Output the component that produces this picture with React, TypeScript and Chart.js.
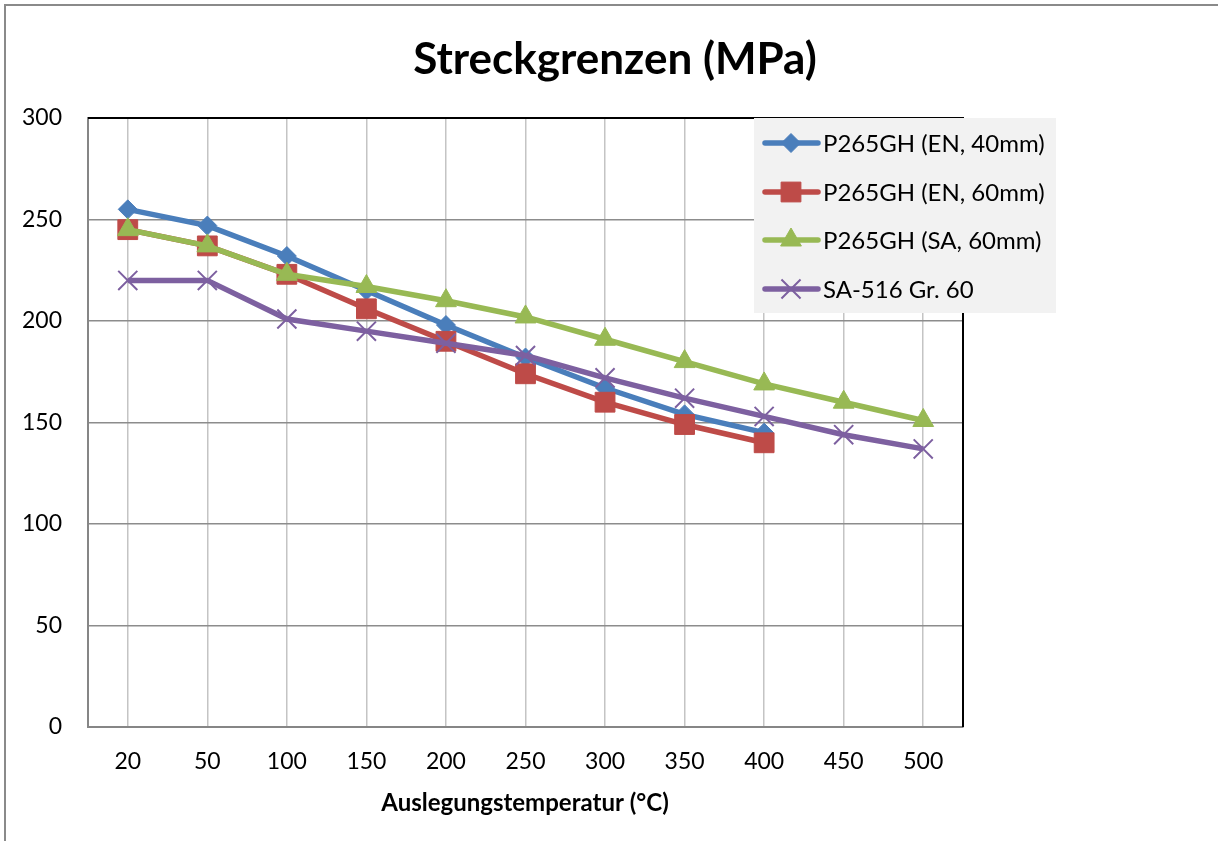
import React, { useEffect, useRef } from "react";
import { Chart, registerables } from "chart.js";

Chart.register(...registerables);

const categories = ["20", "50", "100", "150", "200", "250", "300", "350", "400", "450", "500"];
const en40 = [255, 247, 232, 215, 198, 182, 167, 154, 145, null, null];
const en60 = [245, 237, 223, 206, 190, 174, 160, 149, 140, null, null];
const sa60 = [245, 237, 223, 217, 210, 202, 191, 180, 169, 160, 151];
const sa516 = [220, 220, 201, 195, 189, 183, 172, 162, 153, 144, 137];
const seriesNames = ["P265GH (EN, 40mm)", "P265GH (EN, 60mm)", "P265GH (SA, 60mm)", "SA-516 Gr. 60"];
const seriesColors = ["#4A7EBB", "#BE4B48", "#98B954", "#7D60A0"];
const pointStyles = ["rectRot", "rect", "triangle", "crossRot"];
const pointRadii = [9.5, 14, 12, 13.5];
const titleText = "Streckgrenzen (MPa)";
const xTitleText = "Auslegungstemperatur (°C)";

const FONT = "Lato, 'Open Sans', sans-serif";

export default function App() {
  const ref = useRef<HTMLCanvasElement | null>(null);

  useEffect(() => {
    const canvas = ref.current;
    if (!canvas) return;
    const values = [en40, en60, sa60, sa516];

    function drawPointLocal(ctx: any, style: string, r: number, x: number, y: number) {
      ctx.beginPath();
      if (style === "rectRot") {
        ctx.moveTo(x, y - r); ctx.lineTo(x + r, y); ctx.lineTo(x, y + r); ctx.lineTo(x - r, y); ctx.closePath();
        ctx.fill(); ctx.stroke();
      } else if (style === "rect") {
        const s = r * Math.SQRT1_2;
        ctx.rect(x - s, y - s, 2 * s, 2 * s); ctx.fill(); ctx.stroke();
      } else if (style === "triangle") {
        ctx.moveTo(x, y - r);
        ctx.lineTo(x + Math.sin(2 * Math.PI / 3) * r, y + r / 2);
        ctx.lineTo(x - Math.sin(2 * Math.PI / 3) * r, y + r / 2);
        ctx.closePath(); ctx.fill(); ctx.stroke();
      } else {
        const d = r * Math.SQRT1_2;
        ctx.moveTo(x - d, y - d); ctx.lineTo(x + d, y + d);
        ctx.moveTo(x + d, y - d); ctx.lineTo(x - d, y + d);
        ctx.stroke();
      }
    }

    const decor = {
      id: "decor",
      afterDraw(chart: any) {
        const ctx = chart.ctx;
        const a = chart.chartArea;
        ctx.save();
        ctx.strokeStyle = "#000";
        ctx.lineWidth = 2;
        ctx.beginPath();
        ctx.moveTo(a.left, a.top);
        ctx.lineTo(a.right, a.top);
        ctx.lineTo(a.right, a.bottom);
        ctx.stroke();
        ctx.strokeStyle = "#8a8a8a";
        ctx.lineWidth = 2;
        ctx.beginPath();
        ctx.moveTo(5, 841);
        ctx.lineTo(5, 5);
        ctx.lineTo(1218, 5);
        ctx.stroke();
        ctx.fillStyle = "#000";
        ctx.textAlign = "center";
        ctx.textBaseline = "middle";
        ctx.font = "bold 44px " + FONT;
        ctx.fillText(titleText, 615, 60);
        ctx.font = "bold 24px " + FONT;
        ctx.fillText(xTitleText, 525, 803);
        const lx = 754, ly = 118, lw = 302, lh = 195;
        ctx.fillStyle = "#f2f2f2";
        ctx.fillRect(lx, ly, lw, lh);
        const rows = [143, 192, 240, 289];
        seriesNames.forEach((name, i) => {
          const y = rows[i];
          ctx.strokeStyle = seriesColors[i];
          ctx.lineWidth = 5.5;
          ctx.lineCap = "round";
          ctx.beginPath();
          ctx.moveTo(765, y);
          ctx.lineTo(818, y);
          ctx.stroke();
          ctx.lineCap = "butt";
          ctx.fillStyle = seriesColors[i];
          ctx.lineWidth = i === 3 ? 2 : 1;
          drawPointLocal(ctx, pointStyles[i], pointRadii[i], 791, y);
          ctx.fillStyle = "#000";
          ctx.textAlign = "left";
          ctx.textBaseline = "middle";
          ctx.font = "24px " + FONT;
          ctx.fillText(name, 823, y + 1);
        });
        ctx.restore();
      },
    };

    const chart = new Chart(canvas, {
      type: "line",
      data: {
        labels: categories,
        datasets: values.map((v, i) => ({
          label: seriesNames[i],
          data: v,
          order: 3 - i,
          borderColor: seriesColors[i],
          backgroundColor: seriesColors[i],
          borderWidth: 5.5,
          pointStyle: pointStyles[i] as any,
          pointRadius: pointRadii[i],
          pointBorderWidth: i === 3 ? 2 : 1,
          pointBackgroundColor: seriesColors[i],
          pointBorderColor: seriesColors[i],
          tension: 0,
          spanGaps: false,
        })),
      },
      options: {
        responsive: false,
        animation: false,
        layout: { padding: { left: 0, top: 118, right: 255, bottom: 0 } },
        plugins: {
          legend: { display: false },
          title: { display: false },
          tooltip: { enabled: false },
        },
        scales: {
          x: {
            offset: true,
            grid: { offset: false, color: "#c4c4c4", lineWidth: 1.5, drawTicks: false },
            border: { color: "#868686", width: 2 },
            ticks: { color: "#000", font: { family: FONT, size: 23 }, padding: 21, maxRotation: 0 },
            afterFit: (s: any) => { s.height = 114; },
          },
          y: {
            min: 0,
            max: 300,
            ticks: { stepSize: 50, color: "#000", font: { family: FONT, size: 23 }, padding: 26 },
            grid: { color: "#8c8c8c", lineWidth: 1.5, drawTicks: false },
            border: { color: "#868686", width: 2 },
            afterFit: (s: any) => { s.width = 88; },
          },
        },
      },
      plugins: [decor],
    });
    return () => chart.destroy();
  }, []);

  return (
    <div style={{ position: "fixed", left: 0, top: 0, width: 1218, height: 841, background: "#fff" }}>
      <canvas ref={ref} width={1218} height={841} style={{ display: "block" }} />
    </div>
  );
}
